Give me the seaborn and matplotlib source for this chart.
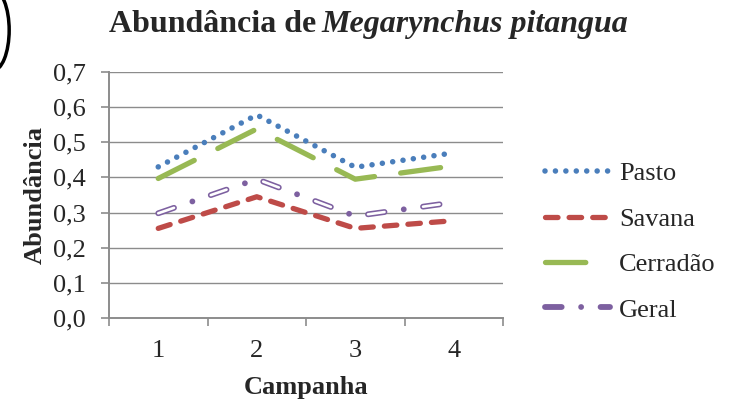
import seaborn as sns
import pandas as pd
import numpy as np
import matplotlib.pyplot as plt
from matplotlib.patches import Arc

campanhas = [1, 2, 3, 4]
pasto = [0.43, 0.578, 0.429, 0.47]
savana = [0.255, 0.345, 0.255, 0.277]
cerradao = [0.397, 0.538, 0.395, 0.433]
geral = [0.298, 0.395, 0.29, 0.329]
yticks = [0.0, 0.1, 0.2, 0.3, 0.4, 0.5, 0.6, 0.7]

sns.set_style("white")
plt.rcParams['font.family'] = ['Liberation Serif', 'DejaVu Serif']
plt.rcParams['lines.scale_dashes'] = False

df = pd.DataFrame({"Campanha": campanhas, "Pasto": pasto, "Savana": savana,
                   "Cerradão": cerradao, "Geral": geral})

fig = plt.figure(figsize=(7.34, 4.07), dpi=100)
ax = fig.add_axes([109/734, 1 - 318/407, (503 - 109)/734, (318 - 72)/407])

grey = "#8c8c8c"
for y in yticks[1:]:
    ax.axhline(y, color=grey, lw=1.0, zorder=0)

sns.lineplot(data=df, x="Campanha", y="Pasto", ax=ax, color="#4a7ebb", lw=4,
             linestyle=(0, (0.01, 7.5)), dash_capstyle="round", label="Pasto")
sns.lineplot(data=df, x="Campanha", y="Savana", ax=ax, color="#be4b48", lw=3.8,
             linestyle=(0, (9, 8)), dash_capstyle="round", label="Savana")
sns.lineplot(data=df, x="Campanha", y="Cerradão", ax=ax, color="#98b954", lw=3.8,
             linestyle=(0, (29, 19)), dash_capstyle="round", label="Cerradão")
# Geral: hollow dash + dot
sns.lineplot(data=df, x="Campanha", y="Geral", ax=ax, color="#7d60a0", lw=4.2,
             linestyle=(0, (12, 14, 0.01, 14)), dash_capstyle="round", label="Geral")
sns.lineplot(data=df, x="Campanha", y="Geral", ax=ax, color="white", lw=1.9,
             linestyle=(0, (12, 28.01)), dash_capstyle="round", label="_nolegend_")

ax.set_xlim(0.5, 4.5)
ax.set_ylim(0, 0.7)
ax.set_xticks([0.5, 1.5, 2.5, 3.5, 4.5])
ax.set_xticklabels([])
ax.set_xticks(campanhas, minor=True)
ax.set_xticklabels([str(c) for c in campanhas], minor=True, fontsize=19)
ax.set_yticks(yticks)
ax.set_yticklabels([f"{v:.1f}".replace(".", ",") for v in yticks], fontsize=19)
ax.tick_params(axis="x", which="major", direction="out", length=6, color=grey, width=1.2, bottom=True)
ax.tick_params(axis="x", which="minor", length=0, pad=16)
ax.tick_params(axis="y", direction="out", length=6, color=grey, width=1.2, left=True, pad=11)
for s in ["top", "right"]:
    ax.spines[s].set_visible(False)
for s in ["left", "bottom"]:
    ax.spines[s].set_color(grey)
    ax.spines[s].set_linewidth(1.4)

ax.set_xlabel("Campanha", fontsize=19, fontweight="bold", labelpad=10)
ax.set_ylabel("Abundância", fontsize=19, fontweight="bold", labelpad=4)

fig.text(316/734, 1 - 32/407, "Abundância de", ha="right", va="baseline",
         fontsize=23, fontweight="bold")
fig.text(321/734, 1 - 32/407, "Megarynchus pitangua", ha="left", va="baseline",
         fontsize=23, fontweight="bold", style="italic")

leg = ax.legend(loc="center left", bbox_to_anchor=(1.08, 0.31), frameon=False,
                fontsize=19, handlelength=2.46, labelspacing=0.83, handletextpad=0.35,
                borderaxespad=0)

fig.patches.append(Arc((-0.01, 0.926), 0.045, 0.2, theta1=-90, theta2=90, lw=2.5,
                       color="black", transform=fig.transFigure, figure=fig))

fig.savefig("out.png", dpi=100)
